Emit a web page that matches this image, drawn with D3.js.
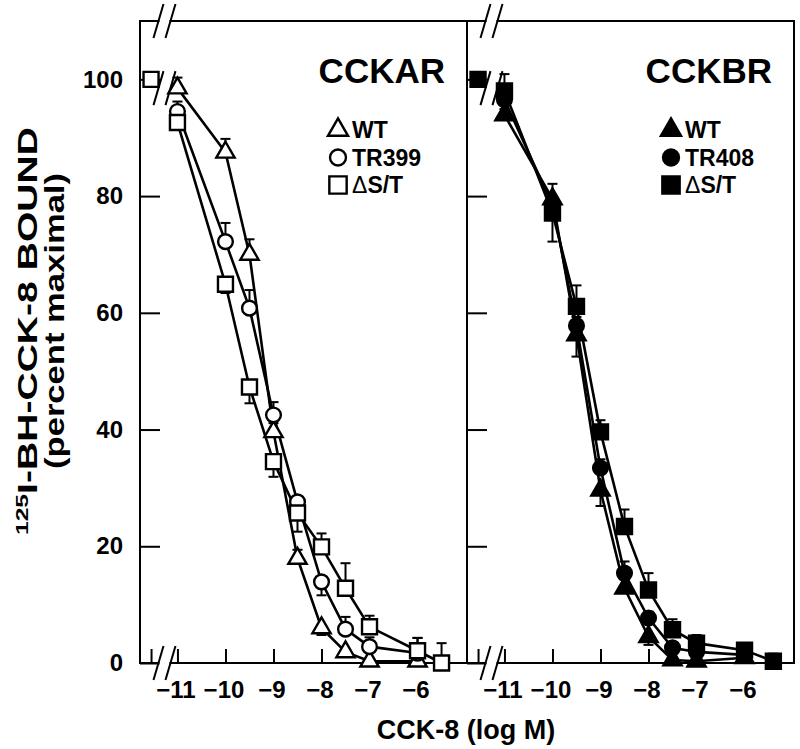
<!DOCTYPE html>
<html>
<head>
<meta charset="utf-8">
<script src="https://cdn.jsdelivr.net/npm/d3@7"></script>
<style>
  body { margin: 0; background: #fff; }
  text { font-family: "Liberation Sans", Arial, Helvetica, sans-serif; font-weight: bold; fill: #000; }
</style>
</head>
<body>
<svg id="chart" width="800" height="749"></svg>
<script>

// Concentrations of CCK-8 (log M); the control point sits left of the axis break
var controlConc = -11.55;
var controlBound = 100;
var concA = [-11, -10, -9.5, -9, -8.5, -8, -7.5, -7, -6];
var concAlastA = [-11, -10, -9.5, -9, -8.5, -8, -7.5, -7, -6, -5.5];
var concAlastB = [-11, -10, -9.5, -9, -8.5, -8, -7.5, -7, -6, -5.4];

// CCKAR panel (open symbols), percent maximal bound
var wtA    = [98.5, 87.5, 70.0, 39.6, 17.9, 6.0, 1.9, 0.3, 0.3];
var tr399  = [94.5, 72.2, 60.8, 42.5, 27.6, 13.9, 5.8, 2.8, 1.7];
var dstA   = [92.6, 64.9, 47.3, 34.5, 25.7, 19.9, 12.8, 6.2, 2.1, 0.0];
// signed error bars: positive drawn upward, negative downward
var wtAErr   = [1.8, 2.3, 2.6, 1.5, 1.5, -1.2, 0, 0, 0];
var tr399Err = [1.7, 3.2, 3.1, 2.2, 1.0, -2.3, 2.1, 1.6, 2.6];
var dstAErr  = [1.0, -1.5, -2.8, -2.6, -3.2, 2.3, 4.3, 1.9, 2.2, 3.4];

// CCKBR panel (filled symbols)
var wtB    = [93.9, 79.5, 56.2, 29.6, 12.8, 4.5, 0.5, 0.3, 0.9];
var tr408  = [96.5, 78.5, 57.8, 33.4, 15.4, 7.7, 2.6, 1.9, 1.4];
var dstB   = [98.0, 77.1, 61.1, 39.6, 23.4, 12.5, 5.7, 3.4, 2.2, 0.3];
var wtBErr   = [1.0, 2.6, -3.7, -2.7, 1.5, -1.4, 0, 0, 0];
var tr408Err = [1.5, 1.5, 1.5, 1.5, 2.0, 1.1, 1.0, 1.0, 0.5];
var dstBErr  = [2.9, -4.9, 3.6, 2.0, 2.9, 2.9, 1.8, 1.4, 1.0, 1.3];

// Axis ticks
var xTicks = [-11, -10, -9, -8, -7, -6];
var yTicks = [0, 20, 40, 60, 80, 100];

var svg = d3.select("#chart");
var top_ = 21, bottom = 663, panelW = 327;
var y = d3.scaleLinear().domain([0, 110]).range([bottom, top_]);

function pairs(xs, ys) {
    return ys.map(function(v, i) { return [xs[i], v]; });
}

var panels = [
    { title: "CCKAR", left: 140, filled: false, legendX: 338, series: [
        { name: "WT",    sym: d3.symbolTriangle, pts: pairs(concA, wtA), err: wtAErr },
        { name: "TR399", sym: d3.symbolCircle,   pts: pairs(concA, tr399), err: tr399Err },
        { name: "ΔS/T",  sym: d3.symbolSquare,   pts: pairs(concAlastA, dstA), err: dstAErr }
    ]},
    { title: "CCKBR", left: 467, filled: true, legendX: 671, series: [
        { name: "WT",    sym: d3.symbolTriangle, pts: pairs(concA, wtB), err: wtBErr },
        { name: "TR408", sym: d3.symbolCircle,   pts: pairs(concA, tr408), err: tr408Err },
        { name: "ΔS/T",  sym: d3.symbolSquare,   pts: pairs(concAlastB, dstB), err: dstBErr }
    ]}
];

// marker area for each symbol type
function symSize(sym, legend) {
    if (sym === d3.symbolTriangle) return legend ? 175 : 145;
    if (sym === d3.symbolCircle) return legend ? 200 : 170;
    return legend ? 300 : 225;
}

panels.forEach(function(p) {
    var x = d3.scaleLinear().domain([-11.78, -4.97]).range([p.left, p.left + panelW]);
    var g = svg.append("g");
    var fill = p.filled ? "#000" : "#fff";

    // frame
    g.append("rect")
        .attr("x", p.left).attr("y", top_)
        .attr("width", panelW).attr("height", bottom - top_)
        .attr("fill", "none").attr("stroke", "#000").attr("stroke-width", 2);

    // y ticks pointing inward
    var yAxis = g.append("g")
        .attr("transform", "translate(" + p.left + ",0)")
        .call(d3.axisLeft(y).tickValues(yTicks).tickSizeInner(-20).tickSizeOuter(0).tickPadding(17));
    yAxis.select(".domain").remove();
    yAxis.selectAll("line").attr("stroke", "#000").attr("stroke-width", 2);
    yAxis.selectAll("text").style("font-size", "24px").attr("font-family", null);
    if (p.left !== 140) yAxis.selectAll("text").remove();

    // x ticks pointing up
    var xAxis = g.append("g")
        .attr("transform", "translate(0," + bottom + ")")
        .call(d3.axisBottom(x).tickValues([controlConc].concat(xTicks))
            .tickFormat(function(d) { return d === controlConc ? "" : d3.format("d")(d); })
            .tickSizeInner(-14).tickSizeOuter(0).tickPadding(18));
    xAxis.select(".domain").remove();
    xAxis.selectAll("line").attr("stroke", "#000").attr("stroke-width", 2);
    xAxis.selectAll("text").style("font-size", "24px").attr("font-family", null)
        .attr("dx", "-2");

    // axis break marks
    var bx = x(-11.27);
    [top_, bottom].forEach(function(yy) {
        g.append("rect").attr("x", bx - 5).attr("y", yy - 3).attr("width", 10).attr("height", 6).attr("fill", "#fff");
    });
    [top_, y(98.5), bottom].forEach(function(yy) {
        [-6, 6].forEach(function(off) {
            g.append("line")
                .attr("x1", bx + off - 5).attr("y1", yy + 17)
                .attr("x2", bx + off + 5).attr("y2", yy - 17)
                .attr("stroke", "#000").attr("stroke-width", 2);
        });
    });

    var line = d3.line().x(function(d) { return x(d[0]); }).y(function(d) { return y(d[1]); });

    // connecting lines
    p.series.forEach(function(s) {
        g.append("path").attr("d", line(s.pts))
            .attr("fill", "none").attr("stroke", "#000").attr("stroke-width", 2.6);
    });

    // error bars
    p.series.forEach(function(s) {
        s.pts.forEach(function(d, i) {
            var e = s.err[i];
            if (!e) return;
            var x0 = x(d[0]), y1 = y(d[1] + e);
            g.append("line").attr("x1", x0).attr("x2", x0)
                .attr("y1", y(d[1])).attr("y2", y1)
                .attr("stroke", "#000").attr("stroke-width", 2);
            g.append("line").attr("x1", x0 - 5).attr("x2", x0 + 5)
                .attr("y1", y1).attr("y2", y1)
                .attr("stroke", "#000").attr("stroke-width", 2);
        });
    });

    // markers
    p.series.forEach(function(s) {
        g.selectAll(null).data(s.pts).enter().append("path")
            .attr("d", d3.symbol().type(s.sym).size(symSize(s.sym, false)))
            .attr("transform", function(d) { return "translate(" + x(d[0]) + "," + y(d[1]) + ")"; })
            .attr("fill", fill).attr("stroke", "#000").attr("stroke-width", 2.4);
    });

    // control (no CCK-8) point
    g.append("path")
        .attr("d", d3.symbol().type(d3.symbolSquare).size(225))
        .attr("transform", "translate(" + x(controlConc) + "," + y(controlBound) + ")")
        .attr("fill", fill).attr("stroke", "#000").attr("stroke-width", 2.4);

    // panel title
    g.append("text")
        .attr("x", p.left + panelW - 22).attr("y", 83)
        .attr("text-anchor", "end")
        .style("font-size", "35px")
        .text(p.title);

    // legend
    p.series.forEach(function(s, i) {
        var cy = 130 + i * 27.5;
        g.append("path")
            .attr("d", d3.symbol().type(s.sym).size(symSize(s.sym, true)))
            .attr("transform", "translate(" + p.legendX + "," + cy + ")")
            .attr("fill", fill).attr("stroke", "#000").attr("stroke-width", 2.4);
        var t = g.append("text")
            .attr("x", p.legendX + 14).attr("y", cy + 8)
            .style("font-size", "23px");
        if (s.name.charAt(0) === "Δ") {
            t.append("tspan").style("font-weight", "normal").text("Δ");
            t.append("tspan").text(s.name.slice(1));
        } else {
            t.text(s.name);
        }
    });
});

// axis titles
svg.append("text")
    .attr("x", 466).attr("y", 739)
    .attr("text-anchor", "middle")
    .style("font-size", "27px")
    .text("CCK-8 (log M)");

var yt = svg.append("text")
    .attr("transform", "translate(37,331) rotate(-90)")
    .attr("text-anchor", "middle")
    .attr("textLength", 408).attr("lengthAdjust", "spacingAndGlyphs")
    .style("font-size", "27px");
yt.append("tspan").attr("baseline-shift", "super").style("font-size", "17px").text("125");
yt.append("tspan").text("I-BH-CCK-8 BOUND");

svg.append("text")
    .attr("transform", "translate(64,321) rotate(-90)")
    .attr("text-anchor", "middle")
    .attr("textLength", 296).attr("lengthAdjust", "spacingAndGlyphs")
    .style("font-size", "27px")
    .text("(percent maximal)");

</script>
</body>
</html>
